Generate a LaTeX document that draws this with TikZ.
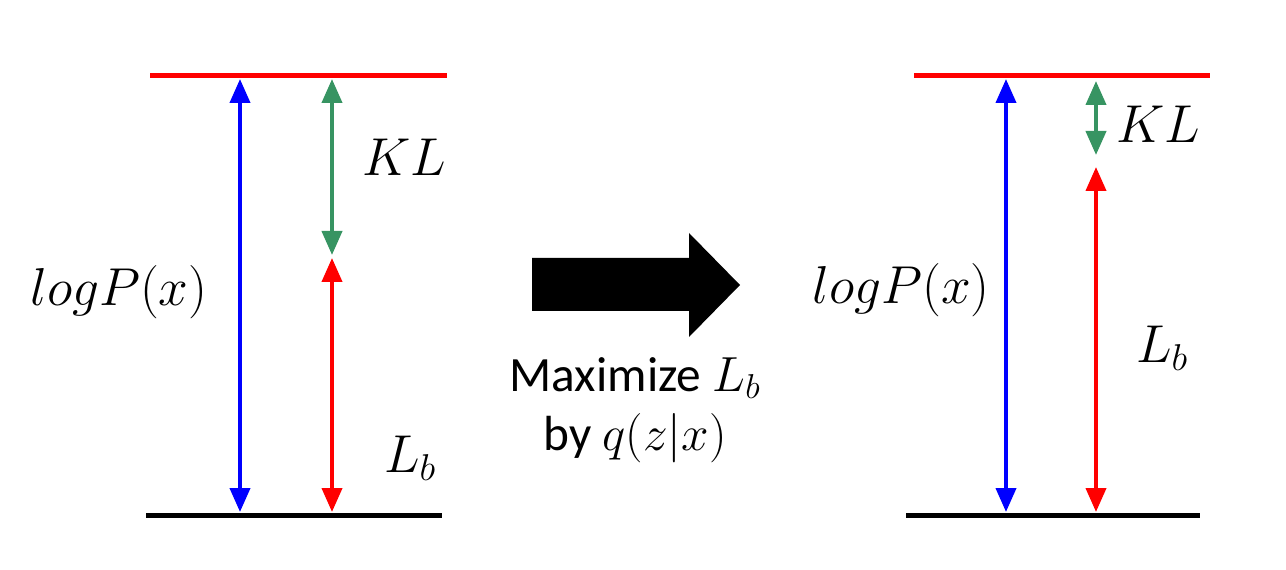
\RequirePackage{fix-cm}
\documentclass[tikz,border=0pt]{standalone}
\usepackage{fontspec}
\setsansfont{Carlito}
\usepackage{amsmath}
\usepackage{tikz}
\usetikzlibrary{arrows.meta}

\definecolor{klgreen}{RGB}{55,148,98}

\tikzset{
    level/.style={line width=3.75pt},
    gap/.style={line width=3pt, {Triangle[width=15pt,length=18pt]}-{Triangle[width=15pt,length=18pt]}},
    lbl/.style={font=\fontsize{40}{48}\selectfont}
}

\begin{document}
\begin{tikzpicture}[x=0.75pt, y=-0.75pt]

    % Rahmen
    \useasboundingbox (0,0) rectangle (1286,570);

    % Linker Teil: Niveaus
    \coordinate (topA1) at (150,76);
    \coordinate (topA2) at (447,76);
    \coordinate (botA1) at (146,515);
    \coordinate (botA2) at (442,515);
    \draw[level, red] (topA1) -- (topA2);
    \draw[level, black] (botA1) -- (botA2);

    % Linker Teil: Pfeile
    \coordinate (logA1) at (240,79);
    \coordinate (logA2) at (240,512);
    \coordinate (klA1) at (332,79);
    \coordinate (klA2) at (332,255);
    \coordinate (lbA1) at (332,258);
    \coordinate (lbA2) at (332,512);
    \draw[gap, blue] (logA1) -- (logA2);
    \draw[gap, klgreen] (klA1) -- (klA2);
    \draw[gap, red] (lbA1) -- (lbA2);

    % Linker Teil: Beschriftungen
    \node[lbl] (logPA) at (119,292) {$logP(x)$};
    \node[lbl] (klA) at (404,157) {$KL$};
    \node[lbl] (lbA) at (410,458) {$L_b$};

    % Dicker Pfeil in der Mitte
    \fill[black] (532,258) -- (689,258) -- (689,233) -- (740,285)
        -- (689,337) -- (689,311) -- (532,311) -- cycle;
    \node[font=\sffamily\fontsize{37}{44}\selectfont, align=center] (maxi) at (635,410)
        {Maximize $L_b$\\ by $q(z|x)$};

    % Rechter Teil: Niveaus
    \coordinate (topB1) at (914,76);
    \coordinate (topB2) at (1210,76);
    \coordinate (botB1) at (906,515);
    \coordinate (botB2) at (1200,515);
    \draw[level, red] (topB1) -- (topB2);
    \draw[level, black] (botB1) -- (botB2);

    % Rechter Teil: Pfeile
    \coordinate (logB1) at (1006,79);
    \coordinate (logB2) at (1006,512);
    \coordinate (klB1) at (1096,81);
    \coordinate (klB2) at (1096,155);
    \coordinate (lbB1) at (1096,167);
    \coordinate (lbB2) at (1096,512);
    \draw[gap, blue] (logB1) -- (logB2);
    \draw[gap, klgreen] (klB1) -- (klB2);
    \draw[gap, red] (lbB1) -- (lbB2);

    % Rechter Teil: Beschriftungen
    \node[lbl] (logPB) at (901,290) {$logP(x)$};
    \node[lbl] (klB) at (1158,124) {$KL$};
    \node[lbl] (lbB) at (1162,348) {$L_b$};

\end{tikzpicture}
\end{document}
